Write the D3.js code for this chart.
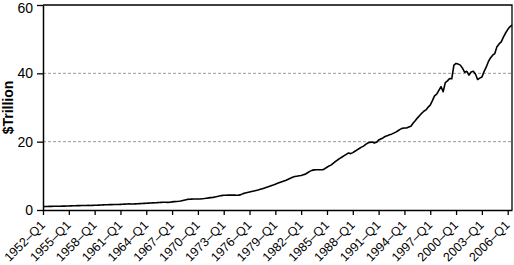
<!DOCTYPE html>
<html>
<head>
<meta charset="utf-8">
<script src="https://cdn.jsdelivr.net/npm/d3@7"></script>
<style>
  body { margin: 0; background: #fff; }
  svg { display: block; font-family: "Liberation Sans", Arial, sans-serif; }
</style>
</head>
<body>
<svg class="chart" width="514" height="265"></svg>
<script>
// quarterly values, $ trillion, 1952-Q1 .. 2006-Q3
const values = [
  1.00, 1.02, 1.04, 1.06,   // 1952
  1.07, 1.08, 1.08, 1.09,
  1.10, 1.12, 1.14, 1.17,
  1.19, 1.21, 1.23, 1.25,   // 1955
  1.27, 1.29, 1.30, 1.32,
  1.33, 1.34, 1.33, 1.35,
  1.37, 1.40, 1.43, 1.47,   // 1958
  1.50, 1.53, 1.55, 1.57,
  1.58, 1.60, 1.61, 1.63,
  1.66, 1.70, 1.73, 1.77,   // 1961
  1.78, 1.75, 1.76, 1.80,
  1.84, 1.88, 1.91, 1.95,
  1.99, 2.02, 2.06, 2.09,   // 1964
  2.13, 2.15, 2.19, 2.23,
  2.26, 2.25, 2.24, 2.28,
  2.38, 2.44, 2.50, 2.55,   // 1967
  2.65, 2.80, 2.95, 3.10,
  3.15, 3.18, 3.20, 3.22,
  3.20, 3.22, 3.28, 3.35,   // 1970
  3.45, 3.55, 3.62, 3.70,
  3.82, 3.95, 4.08, 4.22,
  4.30, 4.33, 4.35, 4.35,   // 1973
  4.35, 4.34, 4.33, 4.35,
  4.50, 4.80, 4.95, 5.10,
  5.25, 5.40, 5.55, 5.70,   // 1976
  5.85, 6.05, 6.25, 6.45,
  6.65, 6.85, 7.10, 7.30,
  7.55, 7.80, 8.05, 8.30,   // 1979
  8.50, 8.70, 9.00, 9.30,
  9.60, 9.80, 9.90, 10.0,
  10.1, 10.3, 10.5, 10.9,   // 1982
  11.3, 11.6, 11.75, 11.8,
  11.8, 11.8, 11.8, 12.1,
  12.5, 12.9, 13.2, 13.7,   // 1985
  14.2, 14.7, 15.1, 15.5,
  15.9, 16.3, 16.7, 16.5,
  16.8, 17.2, 17.6, 18.0,   // 1988
  18.4, 18.7, 19.2, 19.6,
  19.8, 19.9, 19.6, 19.8,
  20.5, 20.8, 21.1, 21.5,   // 1991
  21.7, 22.0, 22.2, 22.5,
  22.8, 23.2, 23.6, 23.9,
  24.0, 24.0, 24.3, 24.5,   // 1994
  25.4, 26.1, 26.9, 27.6,
  28.3, 28.9, 29.3, 30.1,
  30.7, 32.0, 33.4, 33.9,   // 1997
  35.0, 36.1, 34.6, 37.3,
  37.8, 38.5, 38.4, 42.4,
  42.9, 42.7, 42.4, 41.5,   // 2000
  40.3, 40.6, 39.5, 40.4,
  40.6, 39.8, 38.2, 38.6,
  38.9, 40.5, 41.8, 43.4,   // 2003
  44.5, 45.3, 45.8, 47.8,
  48.6, 49.2, 50.6, 51.8,
  52.8, 53.6, 54.1          // 2006
];

const startYear = 1952;
const quarters = values.map((d, i) =>
  `${startYear + Math.floor(i / 4)}–Q${(i % 4) + 1}`);

const xTickLabels = ["1952–Q1", "1955–Q1", "1958–Q1", "1961–Q1", "1964–Q1",
  "1967–Q1", "1970–Q1", "1973–Q1", "1976–Q1", "1979–Q1", "1982–Q1",
  "1985–Q1", "1988–Q1", "1991–Q1", "1994–Q1", "1997–Q1", "2000–Q1",
  "2003–Q1", "2006–Q1"];
const yTicks = [0, 20, 40, 60];
const gridTicks = [20, 40];
const yTitle = "$Trillion";

const width = 514, height = 265;
const margin = {top: 5, right: 2, bottom: 55, left: 43};

const svg = d3.select("svg.chart");

const x = d3.scalePoint()
  .domain(quarters)
  .range([margin.left, width - margin.right]);

const y = d3.scaleLinear()
  .domain([0, 60])
  .range([height - margin.bottom, margin.top]);

// dashed grid lines
svg.append("g")
  .selectAll("line")
  .data(gridTicks)
  .enter()
  .append("line")
  .attr("x1", margin.left)
  .attr("x2", width - margin.right)
  .attr("y1", d => y(d))
  .attr("y2", d => y(d))
  .style("stroke", "#9a9a9a")
  .style("stroke-width", 1)
  .style("stroke-dasharray", "3,2");

// top & right frame
svg.append("path")
  .attr("d", `M${margin.left},${y(60)}H${width - margin.right}V${y(0)}`)
  .style("fill", "none")
  .style("stroke", "#000")
  .style("stroke-width", 1.3);

// x axis
const xAxis = svg.append("g")
  .attr("transform", `translate(0,${y(0)})`)
  .call(d3.axisBottom(x).tickValues(xTickLabels).tickSize(5).tickSizeOuter(0));

xAxis.select(".domain").style("stroke-width", 1.5);
xAxis.selectAll(".tick line").style("stroke-width", 1.3);
xAxis.selectAll("text")
  .style("font-size", "12.5px")
  .style("text-anchor", "end")
  .attr("x", 0)
  .attr("y", 0)
  .attr("dx", "-0.2em")
  .attr("dy", "0.35em")
  .attr("transform", "translate(1,11) rotate(-45)");

// y axis
const yAxis = svg.append("g")
  .attr("transform", `translate(${margin.left},0)`)
  .call(d3.axisLeft(y).tickValues(yTicks).tickSize(6).tickSizeOuter(0).tickPadding(4));

yAxis.select(".domain").style("stroke-width", 1.5);
yAxis.selectAll(".tick line").style("stroke-width", 1.3);
yAxis.selectAll("text")
  .style("font-size", "14px")
  .attr("dy", d => d === 60 ? "0.52em" : "0.32em");

svg.append("text")
  .attr("transform", `translate(13,${(y(60) + y(0)) / 2}) rotate(-90)`)
  .style("text-anchor", "middle")
  .style("font-size", "14px")
  .style("font-weight", "bold")
  .text(yTitle);

// the series
const line = d3.line()
  .x((d, i) => x(quarters[i]))
  .y(d => y(d));

svg.append("path")
  .datum(values)
  .attr("d", line)
  .style("fill", "none")
  .style("stroke", "#000")
  .style("stroke-width", 1.6)
  .style("stroke-linejoin", "round");
</script>
</body>
</html>
